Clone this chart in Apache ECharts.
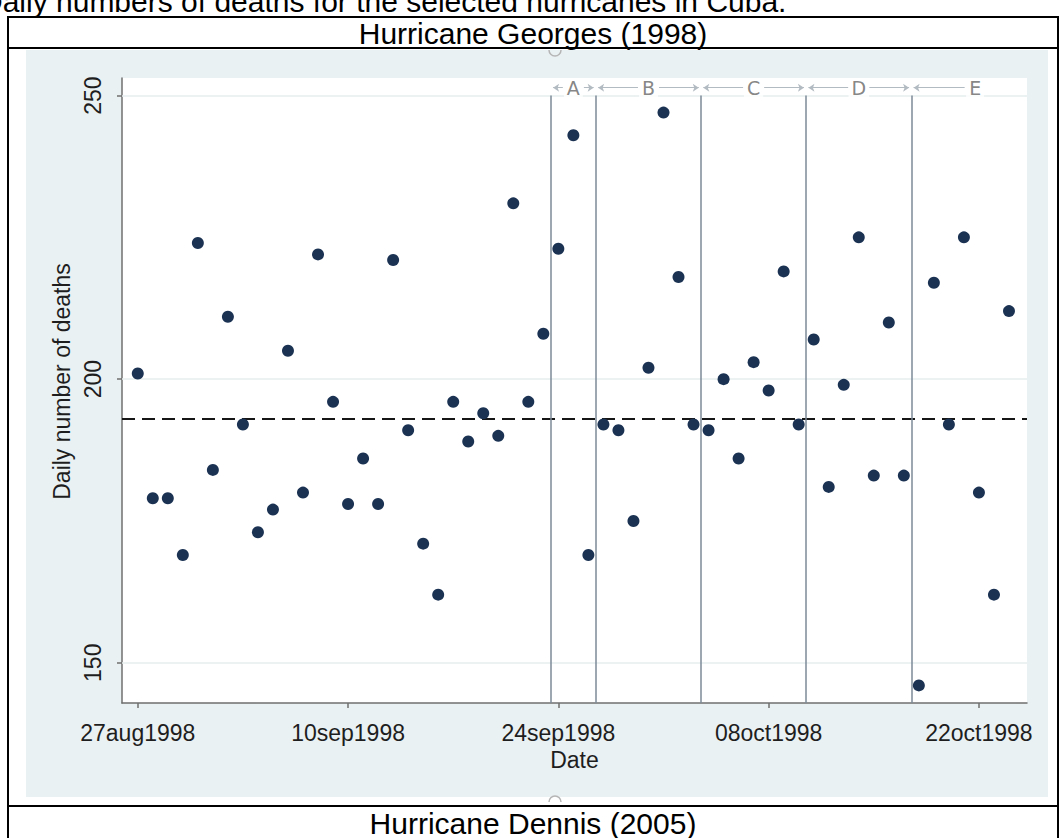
<!DOCTYPE html>
<html>
<head>
<meta charset="utf-8">
<script src="https://cdn.jsdelivr.net/npm/echarts@6/dist/echarts.min.js"></script>
<style>
  html, body { margin: 0; padding: 0; background: #ffffff; }
  #chart { width: 1063px; height: 838px; }
</style>
</head>
<body>
<div id="chart"></div>
<script>
// Daily deaths in Cuba around Hurricane Georges (1998)
const dates = [
  '1998-08-27','1998-08-28','1998-08-29','1998-08-30','1998-08-31',
  '1998-09-01','1998-09-02','1998-09-03','1998-09-04','1998-09-05','1998-09-06','1998-09-07',
  '1998-09-08','1998-09-09','1998-09-10','1998-09-11','1998-09-12','1998-09-13','1998-09-14',
  '1998-09-15','1998-09-16','1998-09-17','1998-09-18','1998-09-19','1998-09-20','1998-09-21',
  '1998-09-22','1998-09-23','1998-09-24','1998-09-25','1998-09-26','1998-09-27','1998-09-28',
  '1998-09-29','1998-09-30','1998-10-01','1998-10-02','1998-10-03','1998-10-04','1998-10-05',
  '1998-10-06','1998-10-07','1998-10-08','1998-10-09','1998-10-10','1998-10-11','1998-10-12',
  '1998-10-13','1998-10-14','1998-10-15','1998-10-16','1998-10-17','1998-10-18','1998-10-19',
  '1998-10-20','1998-10-21','1998-10-22','1998-10-23','1998-10-24'
];
const deaths = [
  201, 179, 179, 169, 224,
  184, 211, 192, 173, 177, 205, 180,
  222, 196, 178, 186, 178, 221, 191,
  171, 162, 196, 189, 194, 190, 231,
  196, 208, 223, 243, 169, 192, 191,
  175, 202, 247, 218, 192, 191, 200,
  186, 203, 198, 219, 192, 207, 181,
  199, 225, 183, 210, 183, 146, 217,
  192, 225, 180, 162, 212
];
const tickDates = ['1998-08-27', '1998-09-10', '1998-09-24', '1998-10-08', '1998-10-22'];
const yTicks = [150, 200, 250];
const referenceLevel = 193;
const periodLabels = ['A', 'B', 'C', 'D', 'E'];
// period boundaries; the first five are drawn as vertical lines
const periodBounds = ['1998-09-23T12', '1998-09-26T12', '1998-10-03T12', '1998-10-10T12', '1998-10-17T12', '1998-10-26'];

const DAY = 86400000;
const MONTHS = ['jan','feb','mar','apr','may','jun','jul','aug','sep','oct','nov','dec'];
function toTime(s) {
  const [d, h] = s.split('T');
  const [y, m, dd] = d.split('-').map(Number);
  return Date.UTC(y, m - 1, dd, h ? Number(h) : 0);
}
function fmtDate(t) {
  const d = new Date(t);
  const dd = String(d.getUTCDate()).padStart(2, '0');
  return dd + MONTHS[d.getUTCMonth()] + d.getUTCFullYear();
}

const t0 = toTime(dates[0]);
const xMin = t0 - 1.05 * DAY;
const xMax = t0 + 59.2 * DAY;
const yMin = 142.9;
const yMax = 253.1;
const annotY = 251.4;
const labelGap = 0.7 * DAY;

const points = dates.map((d, i) => [toTime(d), deaths[i]]);
const bounds = periodBounds.map(toTime);
const breaks = bounds.slice(0, 5);

const gridLineItems = yTicks.map(v => ({
  yAxis: v, lineStyle: { color: '#e6ecec', width: 1.5, type: 'solid' }
}));
const refItem = { yAxis: referenceLevel, lineStyle: { color: '#161616', width: 2, type: [13, 7] } };
const breakItems = breaks.map(t => [
  { coord: [t, 250], lineStyle: { color: '#7b8a99', width: 1.5, type: 'solid' } },
  { coord: [t, yMin] }
]);

const periodMid = periodLabels.map((_, i) => (bounds[i] + bounds[i + 1]) / 2);
const arrowItems = [];
periodLabels.forEach((_, i) => {
  arrowItems.push([{ coord: [periodMid[i] - labelGap, annotY] }, { coord: [bounds[i] + 0.15 * DAY, annotY] }]);
  arrowItems.push([{ coord: [periodMid[i] + labelGap, annotY] }, { coord: [bounds[i + 1] - 0.15 * DAY, annotY] }]);
});

const chart = echarts.init(document.getElementById('chart'), null, { renderer: 'svg' });
const FONT = '"Liberation Sans", Arial, sans-serif';
const TXT = '#1e1e1e';

chart.setOption({
  animation: false,
  backgroundColor: '#ffffff',
  textStyle: { fontFamily: FONT },
  grid: {
    left: 122, right: 36, top: 78, bottom: 135,
    show: true, backgroundColor: '#ffffff', borderWidth: 0, containLabel: false
  },
  graphic: [
    { type: 'rect', z: -10, silent: true, shape: { x: 26, y: 50, width: 1022, height: 747 }, style: { fill: '#eaf1f3' } },
    { type: 'text', silent: true, style: { text: 'Daily numbers of deaths for the selected hurricanes in Cuba.', x: -19, y: 1, verticalAlign: 'middle', font: '30px ' + FONT, fill: '#000' } },
    { type: 'line', silent: true, shape: { x1: 8, y1: 17, x2: 1058, y2: 17 }, style: { stroke: '#000', lineWidth: 2 } },
    { type: 'line', silent: true, shape: { x1: 8, y1: 48, x2: 1058, y2: 48 }, style: { stroke: '#000', lineWidth: 2 } },
    { type: 'line', silent: true, shape: { x1: 8, y1: 806, x2: 1058, y2: 806 }, style: { stroke: '#000', lineWidth: 2 } },
    { type: 'line', silent: true, shape: { x1: 8, y1: 16, x2: 8, y2: 838 }, style: { stroke: '#000', lineWidth: 2 } },
    { type: 'line', silent: true, shape: { x1: 1058, y1: 16, x2: 1058, y2: 838 }, style: { stroke: '#000', lineWidth: 2 } },
    { type: 'text', silent: true, style: { text: 'Hurricane Georges (1998)', x: 533, y: 33, align: 'center', verticalAlign: 'middle', font: '30px ' + FONT, fill: '#000' } },
    { type: 'text', silent: true, style: { text: 'Hurricane Dennis (2005)', x: 533, y: 823, align: 'center', verticalAlign: 'middle', font: '30px ' + FONT, fill: '#000' } },
    { type: 'arc', silent: true, z: 20, shape: { cx: 555, cy: 50, r: 6, startAngle: 0, endAngle: Math.PI, clockwise: true }, style: { fill: 'none', stroke: '#b5b5b5', lineWidth: 1.5 } },
    { type: 'arc', silent: true, z: 20, shape: { cx: 555, cy: 802, r: 6, startAngle: Math.PI, endAngle: 2 * Math.PI, clockwise: true }, style: { fill: 'none', stroke: '#b5b5b5', lineWidth: 1.5 } }
  ],
  xAxis: {
    type: 'value',
    min: xMin, max: xMax,
    name: 'Date', nameLocation: 'middle', nameGap: 45,
    nameTextStyle: { fontSize: 23, color: TXT, fontFamily: FONT },
    axisLine: { show: true, onZero: false, lineStyle: { color: '#6f6f6f', width: 1.5 } },
    axisTick: { show: true, length: 5, customValues: tickDates.map(toTime), lineStyle: { color: '#6f6f6f', width: 1.5 } },
    axisLabel: { customValues: tickDates.map(toTime), formatter: v => fmtDate(v), fontSize: 23, color: TXT, margin: 18, fontFamily: FONT },
    splitLine: { show: false }
  },
  yAxis: {
    type: 'value',
    min: yMin, max: yMax,
    name: 'Daily number of deaths', nameLocation: 'middle', nameGap: 45,
    nameTextStyle: { fontSize: 23, color: TXT, fontFamily: FONT, padding: [0, 0, 0, 18] },
    axisLine: { show: true, onZero: false, lineStyle: { color: '#6f6f6f', width: 1.5 } },
    axisTick: { show: true, length: 5, customValues: yTicks, lineStyle: { color: '#6f6f6f', width: 1.5 } },
    axisLabel: { customValues: yTicks, rotate: 90, fontSize: 23, color: TXT, margin: 18, fontFamily: FONT },
    splitLine: { show: false }
  },
  series: [
    {
      name: 'reference lines', type: 'scatter', data: [], z: 1, silent: true,
      markLine: {
        z: 1, silent: true, symbol: ['none', 'none'], animation: false,
        label: { show: false },
        data: [...gridLineItems, refItem, ...breakItems]
      }
    },
    {
      name: 'period arrows', type: 'scatter', data: [], z: 1, silent: true, clip: false,
      markLine: {
        z: 1, silent: true, symbol: ['none', 'arrow'], symbolSize: 6, animation: false,
        label: { show: false },
        lineStyle: { color: '#b3bbc2', width: 1, type: 'solid' },
        data: arrowItems
      }
    },
    {
      name: 'period labels', type: 'scatter', z: 3, silent: true, clip: false,
      symbolSize: 1, itemStyle: { color: 'rgba(0,0,0,0)' },
      data: periodLabels.map((l, i) => [periodMid[i], annotY, l]),
      label: {
        show: true, position: 'inside', formatter: p => p.value[2],
        fontSize: 19, color: '#666666', fontFamily: '"DejaVu Sans", ' + FONT,
        backgroundColor: '#ffffff', padding: [0, 3]
      }
    },
    {
      name: 'deaths', type: 'scatter', z: 5,
      symbol: 'circle', symbolSize: 12,
      itemStyle: { color: '#1b3253', opacity: 1 },
      data: points
    }
  ]
});
</script>
</body>
</html>
